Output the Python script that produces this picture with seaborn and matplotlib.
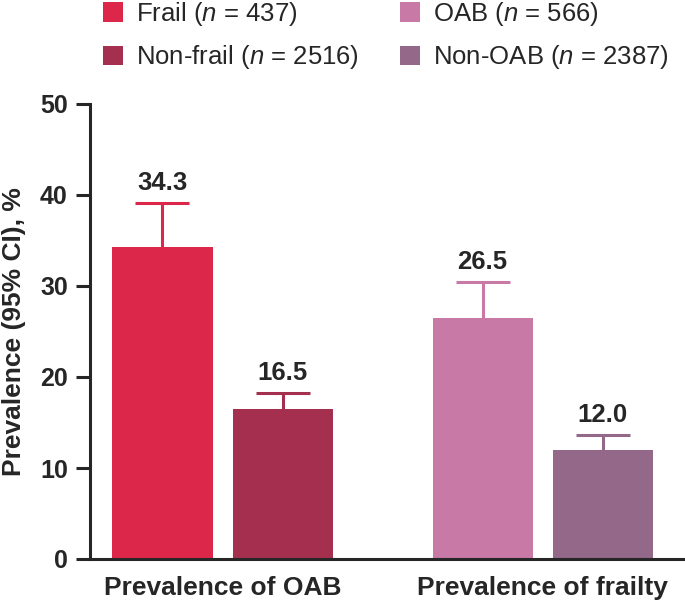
import seaborn as sns
import matplotlib.pyplot as plt
from matplotlib.patches import Patch
import pandas as pd

# values
groups = ["Prevalence of OAB", "Prevalence of OAB", "Prevalence of frailty", "Prevalence of frailty"]
slots = ["first", "second", "first", "second"]
labels = ["Frail ($\\it{n}$ = 437)", "Non-frail ($\\it{n}$ = 2516)",
          "OAB ($\\it{n}$ = 566)", "Non-OAB ($\\it{n}$ = 2387)"]
prevalence = [34.3, 16.5, 26.5, 12.0]
ci_upper = [39.1, 18.2, 30.4, 13.6]
colors = ["#DC264A", "#A52F4F", "#C979A6", "#936889"]

df = pd.DataFrame({"group": groups, "slot": slots, "value": prevalence})

sns.set_style("ticks")
plt.rcParams["font.family"] = ["Liberation Sans", "DejaVu Sans"]
plt.rcParams["mathtext.fontset"] = "custom"
plt.rcParams["mathtext.it"] = "Liberation Sans:italic"
plt.rcParams["mathtext.rm"] = "Liberation Sans"

fig = plt.figure(figsize=(6.85, 6.05), dpi=100)
ax = fig.add_axes([90 / 685, 46 / 605, 595 / 685, 455 / 605])

sns.barplot(data=df, x="group", y="value", hue="slot", width=0.75, gap=1 / 6,
            errorbar=None, legend=False, ax=ax)

# recolor bars (seaborn colours by slot, reference uses one colour per bar)
bars = sorted(ax.patches, key=lambda p: p.get_x())
for bar, c in zip(bars, colors):
    bar.set_facecolor(c)
    bar.set_edgecolor("none")

for bar, val, up, c in zip(bars, prevalence, ci_upper, colors):
    xc = bar.get_x() + bar.get_width() / 2
    eb = ax.errorbar(xc, val, yerr=[[0], [up - val]], fmt="none", ecolor=c,
                     elinewidth=2.2, capsize=19.4, capthick=2.2, zorder=3)
    eb[1][0].set_visible(False)  # no cap on the lower end
    ax.annotate(f"{val:.1f}", (xc, up), xytext=(0, 6), textcoords="offset points",
                ha="center", va="bottom", fontsize=18.5, fontweight="bold")

ax.set_ylim(0, 50)
ax.set_xlim(-0.414, 1.445)
ax.set_yticks([0, 10, 20, 30, 40, 50])
ax.set_xlabel("")
ax.set_ylabel("Prevalence (95% CI), %", fontsize=19, fontweight="bold")
ax.yaxis.set_label_coords(-0.108, 0.5)
ax.tick_params(axis="y", length=10, width=2.2, labelsize=18, pad=6)
ax.tick_params(axis="x", length=0, labelsize=19, pad=12)
for t in ax.get_xticklabels() + ax.get_yticklabels():
    t.set_fontweight("bold")
for s in ["left", "bottom"]:
    ax.spines[s].set_linewidth(2.2)
sns.despine(ax=ax)

handles = [Patch(facecolor=c, edgecolor="none", label=l) for c, l in zip(colors, labels)]
fig.legend(handles=handles, loc="upper left", bbox_to_anchor=(103 / 685, 1.0),
           ncol=2, frameon=False, fontsize=18.5, handlelength=0.78, handleheight=0.78,
           handletextpad=0.5, columnspacing=1.6, labelspacing=0.6, borderpad=0,
           borderaxespad=0)

plt.savefig("out.png", dpi=100)
